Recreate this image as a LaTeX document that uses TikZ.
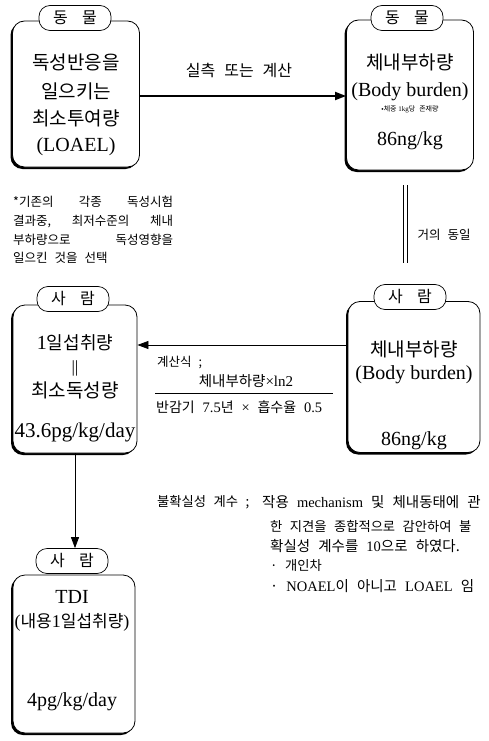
\documentclass[tikz,border=0pt]{standalone}
\usepackage{fontspec}
\setmainfont{Liberation Serif}
\newfontfamily\kor[WordSpace=2.5]{Noto Sans CJK KR}
\newcommand\ko[1]{{\kor #1}}
\newcommand\fs[1]{\fontsize{#1}{#1}\selectfont}
\usetikzlibrary{arrows.meta,shadows}
\begin{document}
\begin{tikzpicture}[x=1pt,y=-1pt,
  box/.style={draw, line width=0.8pt, fill=white, rounded corners=12pt,
    general shadow={fill=black, shadow xshift=-2pt, shadow yshift=-2pt}, inner sep=0pt},
  pill/.style={draw, line width=0.7pt, fill=white, rounded corners=11pt,
    minimum width=72pt, minimum height=25pt, inner sep=0pt, font=\kor\fs{16}},
  kt/.style={font=\kor\fs{19}, inner sep=0pt},
  lt/.style={font=\fs{20}, inner sep=0pt},
  st/.style={font=\kor\fs{12.5}, inner sep=0pt, anchor=west},
  ut/.style={font=\kor\fs{13.3}, inner sep=0pt, anchor=west},
  arr/.style={-{Triangle[length=11pt,width=8pt]}},
]
\useasboundingbox (0,0) rectangle (489,741);

% boxes
\node[box, minimum width=127pt, minimum height=146pt] (b1) at (76,94) {};
\node[pill] (p1) at (75,18) {동\hspace{0.9em}물};
\node[box, minimum width=127pt, minimum height=150pt] (b2) at (410,95) {};
\node[pill] (p2) at (407,18) {동\hspace{0.9em}물};
\node[box, minimum width=124pt, minimum height=148pt] (b3) at (75,379) {};
\node[pill] (p3) at (73,299) {사\hspace{0.9em}람};
\node[box, minimum width=132pt, minimum height=151pt] (b4) at (414,377) {};
\node[pill] (p4) at (410,297) {사\hspace{0.9em}람};
\node[box, minimum width=122pt, minimum height=158pt] (b5) at (74,654) {};
\node[pill] (p5) at (72,561) {사\hspace{0.9em}람};

% box 1 text
\node[kt] (t1a) at (76,62) {독성반응을};
\node[kt] (t1b) at (76,91) {일으키는};
\node[kt] (t1c) at (76,118) {최소투여량};
\node[lt] (t1d) at (76,147) {(LOAEL)};

% box 2 text
\node[kt] (t2a) at (410,62) {체내부하량};
\node[lt] (t2b) at (410,92) {(Body burden)};
\node[inner sep=0pt, font=\fs{7}] (t2c) at (410,109) {\ko{•체중} 1kg\ko{당 존재량}};
\node[lt] (t2d) at (410,141) {86ng/kg};

% box 3 text
\node[lt] (t3a) at (75,343) {1\ko{\fs{18}일섭취량}};
\node[inner sep=0pt, font=\fs{17}] (t3b) at (75,368) {||};
\node[kt] (t3c) at (75,390) {최소독성량};
\node[lt, font=\fs{21}] (t3d) at (75,432) {43.6pg/kg/day};

% box 4 text
\node[kt] (t4a) at (414,349) {체내부하량};
\node[lt] (t4b) at (414,375) {(Body burden)};
\node[lt] (t4c) at (414,441) {86ng/kg};

% box 5 text
\node[lt] (t5a) at (72,597) {TDI};
\node[lt, font=\fs{18}] (t5b) at (72,622) {(\ko{\fs{17}내용}1\ko{\fs{17}일섭취량})};
\node[lt] (t5c) at (72,702) {4pg/kg/day};

% arrow 1
\coordinate (y1) at (0,96);
\draw[arr, line width=1.8pt] (b1.east |- y1) -- (b2.west |- y1);
\node[inner sep=0pt, font=\kor\fs{16}] (l1) at (239,70) {실측 또는 계산};

% note
\node[st] (n1) at (13,202) {\makebox[160pt][s]{*기존의\hfill 각종\hfill 독성시험}};
\node[st] (n2) at (13,222) {\makebox[160pt][s]{결과중,\hfill 최저수준의\hfill 체내}};
\node[st] (n3) at (13,240) {\makebox[160pt][s]{부하량으로\hfill 독성영향을}};
\node[st] (n4) at (13,258) {일으킨 것을 선택};

% double line (almost equal)
\coordinate (d1) at (405,185);
\coordinate (d2) at (405,263);
\draw[line width=0.9pt] ([xshift=-2pt]d1) -- ([xshift=-2pt]d2);
\draw[line width=0.9pt] ([xshift=2pt]d1) -- ([xshift=2pt]d2);
\node[inner sep=0pt, font=\kor\fs{12.5}] (l2) at (444,235) {거의 동일};

% arrow 2
\coordinate (y2) at (0,345);
\draw[arr, line width=0.8pt] (b4.west |- y2) -- (b3.east |- y2);
\node[st] (f0) at (157,363) {계산식 ;};
\node[inner sep=0pt, font=\fs{15}] (f1) at (246,381) {\ko{\fs{14.5}체내부하량}×ln2};
\draw[line width=0.6pt] (155,393) -- (333,393);
\node[st, font=\fs{14.5}] (f2) at (156,407) {\ko{\fs{14}반감기 }7.5\ko{\fs{14}년 }×\ko{\fs{14} 흡수율 }0.5};

% arrow 3
\draw[arr, line width=0.8pt] (b3.south) -- (b3.south |- p5.north);

% uncertainty
\node[ut] (u0) at (157,502) {불확실성 계수 ;};
\node[ut, font=\fs{14.5}] (u1) at (262,502) {\ko{작용 }mechanism\ko{ 및 체내동태에 관}};
\node[ut] (u2) at (270,526) {한 지견을 종합적으로 감안하여 불};
\node[ut, font=\fs{14.5}] (u3) at (270,546) {\ko{확실성 계수를 }10\ko{으로 하였다.}};
\node[ut] (u4) at (270,566) {· 개인차};
\node[ut, font=\fs{14.5}] (u5) at (270,586) {\ko{· }NOAEL\ko{이 아니고 }LOAEL\ko{ 임}};
\end{tikzpicture}
\end{document}
